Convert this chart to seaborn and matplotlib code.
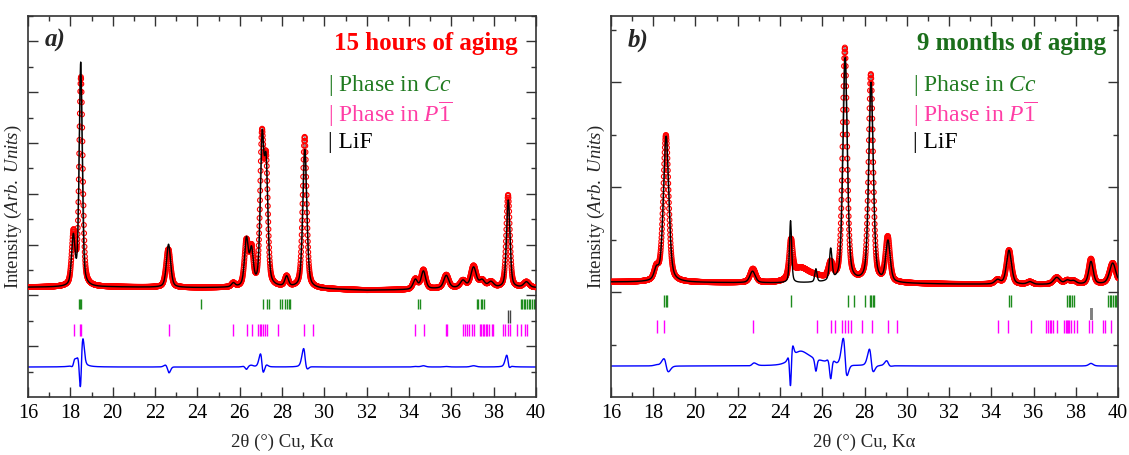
import numpy as np
import pandas as pd
import matplotlib
matplotlib.use("Agg")
import matplotlib.pyplot as plt
import seaborn as sns

# ------------------------------------------------------------------ data
# 2theta grid of the measurement (deg)
tt_min, tt_max, tt_step = 16.0, 40.0, 0.01

# ---- panel a : 15 hours of aging (intensity in y-tick units)
a_bg_x = [16.0, 20.0, 24.0, 28.0, 30.0, 32.0, 34.0, 36.0, 40.0]
a_bg_y = [4.32, 4.33, 4.30, 4.30, 4.25, 4.20, 4.22, 4.28, 4.30]
a_obs_pos = [18.15, 18.50, 22.63, 25.70, 26.32, 26.56, 27.05, 27.25, 28.22, 29.07,
             34.30, 34.68, 35.76, 36.55, 37.05, 37.45, 37.87, 38.68, 39.55]
a_obs_amp = [2.0, 8.2, 1.50, 0.15, 1.75, 1.40, 5.6, 4.6, 0.40, 5.95,
             0.40, 0.75, 0.52, 0.28, 0.85, 0.28, 0.22, 3.65, 0.22]
a_obs_fw = [0.20, 0.20, 0.25, 0.20, 0.22, 0.20, 0.20, 0.20, 0.20, 0.22,
            0.25, 0.25, 0.28, 0.30, 0.30, 0.30, 0.30, 0.20, 0.30]
a_calc_pos = [18.14, 18.49, 22.64, 25.70, 26.32, 26.56, 27.06, 27.25, 28.22, 29.08,
              34.30, 34.68, 35.76, 36.55, 37.05, 37.45, 37.87, 38.69, 39.55]
a_calc_amp = [1.9, 8.8, 1.70, 0.15, 1.85, 1.35, 5.5, 4.5, 0.40, 5.45,
              0.38, 0.70, 0.50, 0.28, 0.80, 0.28, 0.22, 3.45, 0.22]
a_calc_fw = [0.19, 0.17, 0.23, 0.20, 0.21, 0.20, 0.195, 0.20, 0.20, 0.22,
             0.25, 0.25, 0.28, 0.30, 0.30, 0.30, 0.30, 0.19, 0.30]
a_cc = [18.40, 18.44, 18.50, 24.18, 27.12, 27.30, 27.38, 27.92, 28.02, 28.12, 28.22,
        28.32, 28.40, 34.44, 34.52, 37.20, 37.28, 37.40, 37.46, 37.54, 39.28, 39.35,
        39.42, 39.50, 39.58, 39.66, 39.74, 39.82, 39.90, 39.97]
a_p1 = [18.16, 18.46, 18.52, 22.66, 25.68, 26.34, 26.58, 26.86, 26.95, 27.02, 27.10,
        27.20, 27.30, 27.80, 29.04, 29.46, 34.28, 34.70, 35.74, 35.80, 36.55, 36.63,
        36.72, 36.85, 36.98, 37.08, 37.35, 37.42, 37.48, 37.55, 37.62, 37.70, 37.76,
        37.90, 37.98, 38.45, 38.52, 38.70, 38.77, 39.10, 39.30, 39.48, 39.58]
a_lif = [38.67, 38.78]

# ---- panel b : 9 months of aging
b_bg_x = [16.0, 20.0, 24.0, 28.0, 32.0, 36.0, 40.0]
b_bg_y = [2.19, 2.18, 2.17, 2.17, 2.15, 2.14, 2.15]
b_obs_pos = [18.15, 18.60, 22.72, 24.52, 24.95, 25.70, 26.40, 27.07, 28.30, 29.10,
             34.30, 34.84, 35.83, 37.10, 37.60, 37.90, 38.72, 39.75]
b_obs_amp = [0.22, 2.80, 0.26, 0.70, 0.24, 0.10, 0.30, 4.45, 3.95, 0.85,
             0.08, 0.65, 0.05, 0.13, 0.07, 0.06, 0.48, 0.40]
b_obs_fw = [0.25, 0.30, 0.30, 0.20, 0.90, 1.20, 0.25, 0.25, 0.25, 0.25,
            0.30, 0.28, 0.30, 0.35, 0.30, 0.30, 0.25, 0.35]
b_calc_pos = [18.15, 18.61, 22.70, 24.50, 24.95, 25.70, 26.40, 27.085, 28.31, 29.11,
              34.30, 34.84, 35.83, 37.10, 37.60, 37.90, 38.72, 39.75]
b_calc_amp = [0.20, 2.78, 0.22, 1.18, 0.0, 0.25, 0.60, 4.28, 3.80, 0.78,
              0.08, 0.65, 0.05, 0.13, 0.07, 0.06, 0.43, 0.40]
b_calc_fw = [0.25, 0.30, 0.30, 0.12, 0.90, 0.12, 0.15, 0.245, 0.25, 0.25,
             0.30, 0.28, 0.30, 0.35, 0.30, 0.30, 0.25, 0.35]
b_cc = [18.50, 18.58, 18.66, 24.52, 27.22, 27.50, 28.02, 28.26, 28.32, 28.40, 28.45,
        34.84, 34.92, 37.60, 37.66, 37.72, 37.80, 37.90, 39.52, 39.60, 39.68, 39.76,
        39.84, 39.92, 39.98]
b_p1 = [18.18, 18.51, 22.72, 25.75, 26.41, 26.60, 26.94, 27.08, 27.22, 27.36, 27.88,
        28.36, 29.11, 29.54, 34.32, 34.79, 35.88, 36.60, 36.68, 36.76, 36.84, 36.92,
        37.10, 37.45, 37.52, 37.58, 37.64, 37.70, 37.78, 37.90, 38.06, 38.63, 38.77,
        39.30, 39.40, 39.67]
b_lif = [38.72, 38.78]

x_ticks = [16, 18, 20, 22, 24, 26, 28, 30, 32, 34, 36, 38, 40]

# ------------------------------------------------------------------ helpers
def pattern(tt, bg_x, bg_y, pos, amp, fw, eta=0.45):
    y = np.interp(tt, bg_x, bg_y)
    for p, a, w in zip(pos, amp, fw):
        d = (tt - p) / w
        g = np.exp(-4 * np.log(2) * d ** 2)
        l = 1.0 / (1.0 + 4 * d ** 2)
        y = y + a * (eta * l + (1 - eta) * g)
    return y


tt = np.round(np.arange(tt_min, tt_max + tt_step / 2, tt_step), 4)

sns.set_theme(style="ticks")
plt.rcParams["font.family"] = ["Liberation Serif", "DejaVu Serif"]
plt.rcParams["mathtext.fontset"] = "custom"
plt.rcParams["mathtext.rm"] = "Liberation Serif"
plt.rcParams["mathtext.it"] = "Liberation Serif:italic"
plt.rcParams["mathtext.bf"] = "Liberation Serif:bold"

fig = plt.figure(figsize=(11.29, 4.55), dpi=100)
W, H = 1129, 455

panels = [
    dict(box=(28, 16, 536, 397), bg=(a_bg_x, a_bg_y),
         obs=(a_obs_pos, a_obs_amp, a_obs_fw), calc=(a_calc_pos, a_calc_amp, a_calc_fw),
         cc=a_cc, p1=a_p1, lif=a_lif, ylim=15.0, dz=1.18,
         rows=dict(cc=(3.46, 3.86), lif=(2.91, 3.42), p1=(2.40, 2.87)),
         label="a)", title="15 hours of aging", tcolor="#ff0000",
         tx=0.963, lx=0.59, lifc="#444444", lifw=1.0),
    dict(box=(611, 16, 1118, 397), bg=(b_bg_x, b_bg_y),
         obs=(b_obs_pos, b_obs_amp, b_obs_fw), calc=(b_calc_pos, b_calc_amp, b_calc_fw),
         cc=b_cc, p1=b_p1, lif=b_lif, ylim=7.26, dz=0.59,
         rows=dict(cc=(1.71, 1.94), lif=(1.47, 1.70), p1=(1.22, 1.47)),
         label="b)", title="9 months of aging", tcolor="#1b6e1b",
         tx=0.976, lx=0.596, lifc="#808080", lifw=1.4),
]

green = "#1f7a1f"
pink = "#ff3da5"
magenta = "#ff00ff"

for P in panels:
    x0, y0, x1, y1 = P["box"]
    ax = fig.add_axes([x0 / W, 1 - y1 / H, (x1 - x0) / W, (y1 - y0) / H])
    obs = pattern(tt, *P["bg"], *P["obs"])
    calc = pattern(tt, *P["bg"], *P["calc"])
    df = pd.DataFrame({"tt": tt, "obs": obs, "calc": calc,
                       "diff": obs - calc + P["dz"]})

    sns.lineplot(data=df, x="tt", y="obs", ax=ax, color="#8c8c8c", lw=1.0,
                 estimator=None, sort=False)
    sns.scatterplot(data=df, x="tt", y="obs", ax=ax, marker="o", s=12,
                    facecolors="none", edgecolor="#ff0000", linewidth=0.8, zorder=3)
    sns.lineplot(data=df, x="tt", y="calc", ax=ax, color="black", lw=1.0,
                 estimator=None, sort=False, zorder=4)
    sns.lineplot(data=df, x="tt", y="diff", ax=ax, color="#0000ff", lw=1.0,
                 estimator=None, sort=False)

    r = P["rows"]
    ax.vlines(P["cc"], *r["cc"], color="#1e8c1e", lw=1.0)
    ax.vlines(P["lif"], *r["lif"], color=P["lifc"], lw=P["lifw"])
    ax.vlines(P["p1"], *r["p1"], color=magenta, lw=1.0)

    ax.set_xlim(tt_min, tt_max)
    ax.set_ylim(0, P["ylim"])
    ax.set_xticks(x_ticks)
    ax.set_xticks(np.arange(17, 40, 2), minor=True)
    yt = np.arange(1, int(P["ylim"]) + 1)
    ax.set_yticks([v for v in yt if v % 2 == 0])
    ax.set_yticks([v for v in yt if v % 2 == 1], minor=True)
    ax.set_yticklabels([])
    ax.tick_params(which="both", direction="in", top=True, right=True,
                   labelsize=14.5, colors="#333333", labelcolor="black")
    ax.tick_params(which="major", length=7, width=1.0)
    ax.tick_params(which="minor", length=3.5, width=1.0)
    ax.tick_params(axis="x", pad=5)
    for s in ax.spines.values():
        s.set_color("#333333")
        s.set_linewidth(1.2)

    ax.set_xlabel(r"2θ (°) Cu, Kα", fontsize=13.5, labelpad=8)
    ax.set_ylabel(r"Intensity $\mathit{(Arb.\ Units)}$", fontsize=13.5)
    ax.yaxis.set_label_coords(-0.008, 0.5)

    ax.text(0.033, 0.935, P["label"], transform=ax.transAxes, fontsize=18,
            fontweight="bold", fontstyle="italic", va="center", ha="left")
    ax.text(P["tx"], 0.928, P["title"], transform=ax.transAxes, fontsize=18,
            fontweight="bold", color=P["tcolor"], va="center", ha="right")
    ax.text(P["lx"], 0.818, r"| Phase in $\mathit{Cc}$", transform=ax.transAxes,
            fontsize=17, color=green, va="center", ha="left")
    ax.text(P["lx"], 0.743, r"| Phase in $\mathit{P}\overline{\mathit{1}}$",
            transform=ax.transAxes, fontsize=17, color=pink, va="center", ha="left")
    ax.text(P["lx"], 0.668, "| LiF", transform=ax.transAxes, fontsize=17,
            color="black", va="center", ha="left")

fig.savefig("out.png", dpi=100)
